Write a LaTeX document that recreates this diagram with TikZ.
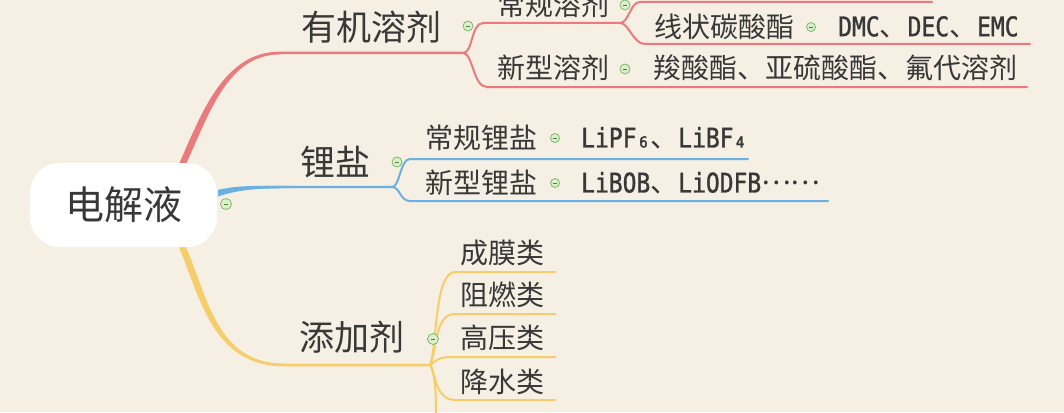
\documentclass[tikz,border=0pt]{standalone}
\usepackage{fontspec}
\newfontfamily\cjk{Noto Sans CJK SC}
\newfontfamily\mono[FakeStretch=0.85,FakeBold=1.2]{DejaVu Sans Mono}
\definecolor{bg}{HTML}{F5F0E3}
\definecolor{redl}{HTML}{EA7A7E}
\definecolor{bluel}{HTML}{6AB0E3}
\definecolor{yell}{HTML}{F6CD6B}
\definecolor{txt}{HTML}{383838}
\definecolor{mkfill}{HTML}{DAF0CB}
\definecolor{mkdraw}{HTML}{74B060}
\begin{document}
\begin{tikzpicture}[x=1pt,y=-1pt,
  rootbox/.style={fill=white,rounded corners=30pt,minimum width=187pt,minimum height=84pt,inner sep=0pt,text=txt,font=\cjk\fontsize{39}{39}\selectfont},
  lone/.style={inner sep=0pt,text=txt,font=\cjk\fontsize{35}{35}\selectfont},
  ltwo/.style={inner sep=0pt,text=txt,font=\cjk\fontsize{28}{28}\selectfont},
  lfree/.style={inner sep=0pt,anchor=west,text=txt,font=\cjk\fontsize{28}{28}\selectfont},
  mk/.style={circle,draw=mkdraw,fill=mkfill,line width=0.7pt,minimum size=#1,inner sep=0pt,
    path picture={\draw[mkdraw!70!black,line width=0.8pt] ([xshift=-2.3pt]path picture bounding box.center) -- ([xshift=2.3pt]path picture bounding box.center);}},
  mk/.default=10pt,
  sub/.style={line width=2pt,line cap=round}
]
\fill[bg] (0,0) rectangle (1064,412);
\useasboundingbox (0,0) rectangle (1064,412);
\clip (0,0) rectangle (1064,412);

% coordinates
\coordinate (rR) at (182,165);
\coordinate (rB) at (218,193);
\coordinate (rY) at (182,246);
\coordinate (hR) at (280,53);
\coordinate (hB) at (290,187);
\coordinate (hY) at (285,365);
\coordinate (f1) at (463,53);
\coordinate (f1a) at (620,23);
\coordinate (f2) at (392,187);
\coordinate (f3) at (430,365);

% ---- red branch ----
\fill[redl] (178.5,165) .. controls (201.5,114) and (223,51.8) .. (280,51.8) -- (280,54.2) .. controls (227,54.2) and (208.5,116) .. (185.5,165) -- cycle;
\draw[redl,line width=2.5pt] (rR) .. controls +(23,-50) and +(-55,0) .. (hR) -- (f1);
\draw[redl,sub] (f1) .. controls +(10,0) and +(-12,0) .. (483,23) -- (f1a);
\draw[redl,sub] (f1) .. controls +(10,0) and +(-14,0) .. (487,87) -- (1027,87);
\draw[redl,sub] (f1a) .. controls +(9,0) and +(-10,0) .. (640,2) -- (932,2);
\draw[redl,sub] (f1a) .. controls +(9,0) and +(-12,0) .. (645,44) -- (1030,44);

% ---- blue branch ----
\fill[bluel] (218,189.8) .. controls (238,185.6) and (250,185.8) .. (290,185.8) -- (290,188.2) .. controls (250,188.2) and (238,190.5) .. (218,196.3) -- cycle;
\draw[bluel,line width=2.4pt] (rB) .. controls +(20,-5) and +(-40,0) .. (hB) -- (f2);
\draw[bluel,sub] (f2) .. controls +(8,0) and +(-10,0) .. (410,159) -- (748,159);
\draw[bluel,sub] (f2) .. controls +(8,0) and +(-10,0) .. (410,201) -- (828,201);

% ---- yellow branch ----
\fill[yell] (178.5,246) .. controls (201.5,301) and (213,366.2) .. (285,366.2) -- (285,363.8) .. controls (217,363.8) and (208.5,299) .. (185.5,246) -- cycle;
\draw[yell,line width=2.5pt] (rY) .. controls +(23,54) and +(-70,0) .. (hY) -- (f3);
\draw[yell,sub] (f3) .. controls (437,350) and (434,272) .. (455,272) -- (555,272);
\draw[yell,sub] (f3) .. controls (437,352) and (434,314) .. (455,314) -- (555,314);
\draw[yell,sub] (f3) .. controls (436,362) and (436,357) .. (452,357) -- (555,357);
\draw[yell,sub] (f3) .. controls (435,368) and (434,400) .. (455,400) -- (555,400);
\draw[yell,sub] (f3) .. controls (436,375) and (436,400) .. (436,420);

% ---- root ----
\node[rootbox] (root) at (123.5,205) {电解液};

% ---- level 1 ----
\node[lone] (yj) at (371,27) {有机溶剂};
\node[lone] (ly) at (335,162) {锂盐};
\node[lone] (tj) at (352,337) {添加剂};

% ---- level 2 / 3 ----
\node[ltwo] (cg) at (553,5) {常规溶剂};
\node[ltwo] (xz) at (724,27) {线状碳酸酯};
\node[ltwo] (xx) at (553,68) {新型溶剂};
\node[ltwo] (cl) at (481,138) {常规锂盐};
\node[ltwo] (xl) at (481,183) {新型锂盐};
\node[ltwo] (cm) at (502,253) {成膜类};
\node[ltwo] (zr) at (502,295) {阻燃类};
\node[ltwo] (gy) at (502,338) {高压类};
\node[ltwo] (js) at (502,382) {降水类};

\node[lfree] (dmc) at (838,27) {{\mono\fontsize{27}{27}\selectfont DMC}、{\mono\fontsize{27}{27}\selectfont DEC}、{\mono\fontsize{27}{27}\selectfont EMC}};
\node[lfree] (sz) at (653,68) {羧酸酯、亚硫酸酯、氟代溶剂};
\node[lfree] (lipf) at (581,138) {{\mono\fontsize{27}{27}\selectfont LiPF₆}、{\mono\fontsize{27}{27}\selectfont LiBF₄}};
\node[lfree] (libob) at (581,183) {{\mono\fontsize{27}{27}\selectfont LiBOB}、{\mono\fontsize{27}{27}\selectfont LiODFB}\raisebox{0.3em}{……}};

% ---- collapse markers ----
\node[mk=11pt] (m0) at (226,204) {};
\node[mk] (m1) at (468,26) {};
\node[mk] (m2) at (397,162) {};
\node[mk=11pt] (m3) at (433,339) {};
\node[mk] (m4) at (625,5) {};
\node[mk=9pt] (m5) at (811,27) {};
\node[mk] (m6) at (625,69) {};
\node[mk=9pt] (m7) at (555,138) {};
\node[mk=9pt] (m8) at (555,183) {};
\end{tikzpicture}
\end{document}
